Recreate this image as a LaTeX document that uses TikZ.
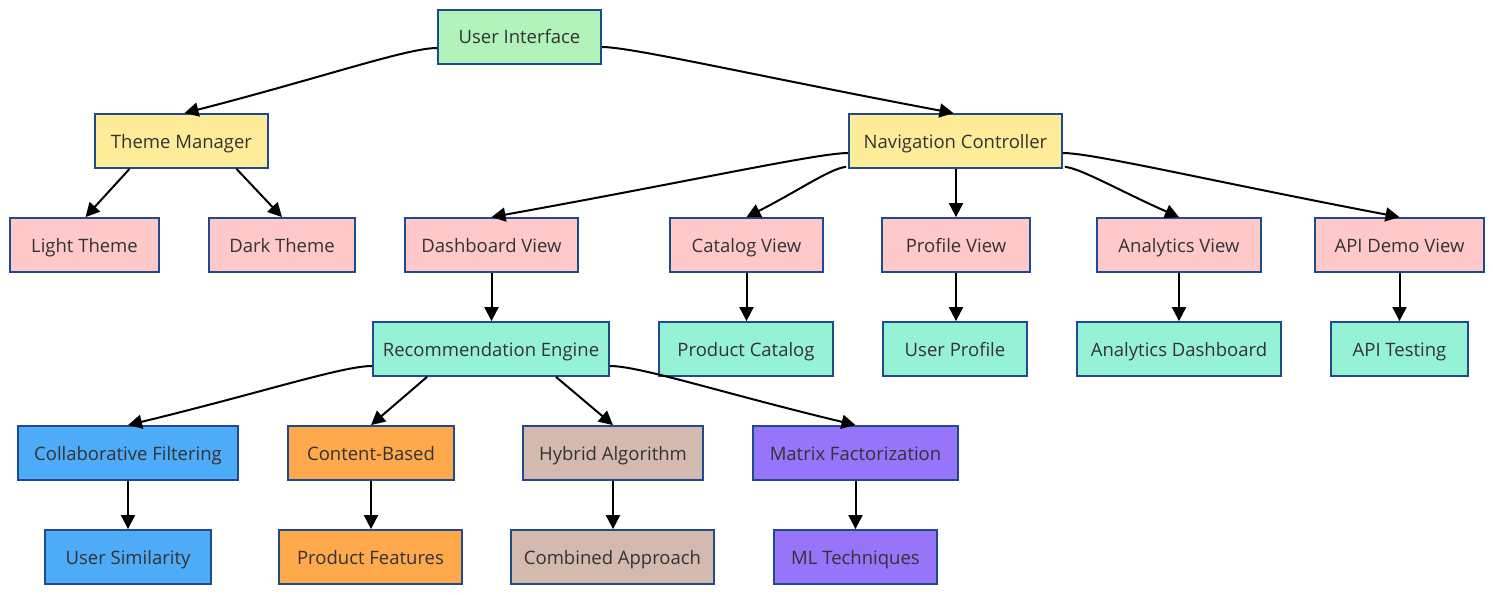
\documentclass[tikz,border=0pt]{standalone}
\usepackage{fontspec}
\setmainfont{Open Sans}
\usetikzlibrary{arrows.meta,calc}
\definecolor{bcol}{HTML}{1F4B8E}
\definecolor{tcol}{HTML}{333333}
\definecolor{cgreen}{HTML}{B2F2BB}
\definecolor{cyellow}{HTML}{FFEC99}
\definecolor{cpink}{HTML}{FFC9C9}
\definecolor{cteal}{HTML}{96F2D7}
\definecolor{cblue}{HTML}{4DABF7}
\definecolor{corange}{HTML}{FFA94D}
\definecolor{ctan}{HTML}{D3B9AE}
\definecolor{cpurple}{HTML}{9775FA}
\tikzset{
  box/.style={draw=bcol, line width=1.8pt, minimum height=54pt, inner sep=0pt,
    text height=14pt, text depth=0pt,
    text=tcol, font=\fontsize{18.5}{20}\selectfont},
  arr/.style={draw=black, line width=2pt, -{Triangle[length=14pt,width=14pt]}},
}
\begin{document}
\begin{tikzpicture}[x=1pt,y=-1pt]
\useasboundingbox (0,0) rectangle (1493,594);
% row 1
\node[box, fill=cgreen, minimum width=163pt] (ui) at (519.5,37) {User Interface};
% row 2
\node[box, fill=cyellow, minimum width=173pt] (tm) at (181.5,141) {Theme Manager};
\node[box, fill=cyellow, minimum width=213pt] (nc) at (955.5,141) {Navigation Controller};
% row 3
\node[box, fill=cpink, minimum width=149pt] (lt) at (84.5,245) {Light Theme};
\node[box, fill=cpink, minimum width=146pt] (dt) at (282,245) {Dark Theme};
\node[box, fill=cpink, minimum width=173pt] (dv) at (491.5,245) {Dashboard View};
\node[box, fill=cpink, minimum width=153pt] (cv) at (746.5,245) {Catalog View};
\node[box, fill=cpink, minimum width=148pt] (pv) at (956,245) {Profile View};
\node[box, fill=cpink, minimum width=164pt] (av) at (1179,245) {Analytics View};
\node[box, fill=cpink, minimum width=169pt] (adv) at (1399.5,245) {API Demo View};
% row 4
\node[box, fill=cteal, minimum width=236pt] (re) at (491,349) {Recommendation Engine};
\node[box, fill=cteal, minimum width=174pt] (pc) at (746,349) {Product Catalog};
\node[box, fill=cteal, minimum width=144pt] (up) at (955,349) {User Profile};
\node[box, fill=cteal, minimum width=204pt] (ad) at (1179,349) {Analytics Dashboard};
\node[box, fill=cteal, minimum width=137pt] (at) at (1399.5,349) {API Testing};
% row 5
\node[box, fill=cblue, minimum width=220pt] (cf) at (128,453) {Collaborative Filtering};
\node[box, fill=corange, minimum width=166pt] (cb) at (371,453) {Content-Based};
\node[box, fill=ctan, minimum width=180pt] (ha) at (613,453) {Hybrid Algorithm};
\node[box, fill=cpurple, minimum width=205pt] (mf) at (855.5,453) {Matrix Factorization};
% row 6
\node[box, fill=cblue, minimum width=166pt] (us) at (128,557) {User Similarity};
\node[box, fill=corange, minimum width=183pt] (pf) at (370.5,557) {Product Features};
\node[box, fill=ctan, minimum width=203pt] (ca) at (612.5,557) {Combined Approach};
\node[box, fill=cpurple, minimum width=163pt] (ml) at (855.5,557) {ML Techniques};

% curved edges
\coordinate (s1) at ($(ui.west)+(0,11)$);
\coordinate (t1) at ($(tm.north)+(3,0)$);
\draw[arr] (s1) .. controls ($(s1)+(-30,0)$) and ($(t1)!0.55!(s1)$) .. (t1);
\coordinate (s2) at ($(ui.east)+(0,10)$);
\coordinate (t2) at ($(nc.north)+(-2,0)$);
\draw[arr] (s2) .. controls ($(s2)+(30,0)$) and ($(t2)!0.55!(s2)$) .. (t2);
\coordinate (s5) at ($(nc.west)+(0,12)$);
\draw[arr] (s5) .. controls ($(s5)+(-30,0)$) and ($(dv.north)!0.55!(s5)$) .. (dv.north);
\coordinate (s6) at ($(nc.south west)+(-2,-2)$);
\draw[arr] (s6) .. controls ($(s6)+(-15,1)$) and ($(cv.north)!0.5!(s6)$) .. (cv.north);
\coordinate (s8) at ($(nc.south east)+(2,-2)$);
\draw[arr] (s8) .. controls ($(s8)+(15,1)$) and ($(av.north)!0.5!(s8)$) .. (av.north);
\coordinate (s9) at ($(nc.east)+(0,12)$);
\draw[arr] (s9) .. controls ($(s9)+(30,0)$) and ($(adv.north)!0.55!(s9)$) .. (adv.north);
\coordinate (s12) at ($(re.west)+(0,17)$);
\draw[arr] (s12) .. controls ($(s12)+(-30,0)$) and ($(cf.north)!0.55!(s12)$) .. (cf.north);
\coordinate (s15) at ($(re.east)+(0,17)$);
\draw[arr] (s15) .. controls ($(s15)+(30,0)$) and ($(mf.north)!0.55!(s15)$) .. (mf.north);

% straight diagonal edges
\draw[arr] ($(tm.south)+(-52,0)$) -- ($(lt.north)+(1,0)$);
\draw[arr] ($(tm.south)+(55,0)$) -- (dt.north);
\draw[arr] ($(re.south)+(-64,0)$) -- ($(cb.north)+(0,0)$);
\draw[arr] ($(re.south)+(65,0)$) -- (ha.north);

% vertical edges
\draw[arr] (nc.south -| pv.north) -- (pv.north);
\draw[arr] (dv.south) -- (re.north -| dv.south);
\draw[arr] (cv.south) -- (pc.north -| cv.south);
\draw[arr] (pv.south) -- (up.north -| pv.south);
\draw[arr] (av.south) -- (ad.north -| av.south);
\draw[arr] (adv.south) -- (at.north -| adv.south);
\draw[arr] (cf.south) -- (us.north -| cf.south);
\draw[arr] (cb.south) -- (pf.north -| cb.south);
\draw[arr] (ha.south) -- (ca.north -| ha.south);
\draw[arr] (mf.south) -- (ml.north -| mf.south);
\end{tikzpicture}
\end{document}
